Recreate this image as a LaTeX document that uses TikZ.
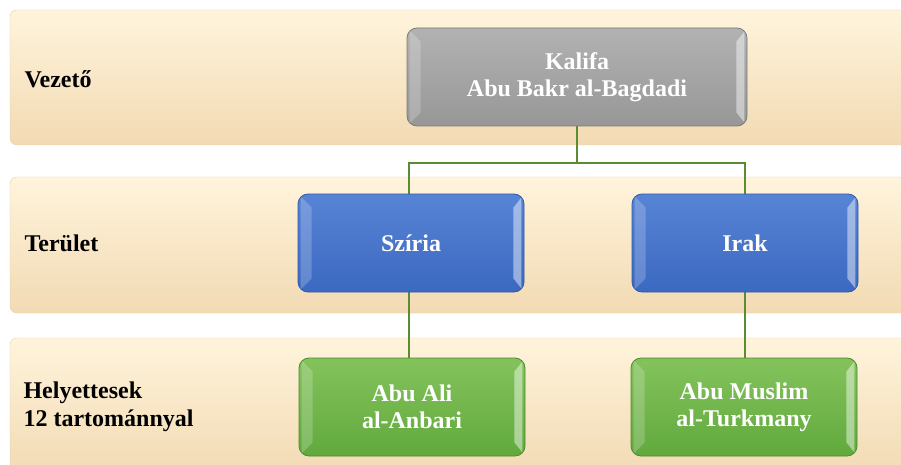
\documentclass[tikz,border=0pt]{standalone}
\usepackage{fontspec}
\setmainfont{Liberation Serif}[BoldFont={Liberation Serif Bold}]
\usetikzlibrary{calc}
\definecolor{bandtop}{HTML}{FFF4DC}
\definecolor{bandbot}{HTML}{F2DAB3}
\definecolor{bandline}{HTML}{E3CDA8}
\definecolor{graytop}{HTML}{B2B2B2}
\definecolor{graybot}{HTML}{979797}
\definecolor{grayline}{HTML}{7A7A7A}
\definecolor{bluetop}{HTML}{5884D5}
\definecolor{bluebot}{HTML}{3B69C1}
\definecolor{blueline}{HTML}{2E5AA8}
\definecolor{greentop}{HTML}{84C35C}
\definecolor{greenbot}{HTML}{61A93D}
\definecolor{greenline}{HTML}{4C8A2C}
\definecolor{connline}{HTML}{5A8C32}
\newcommand{\bevel}[1]{%
  \fill[white,opacity=.2] ($(#1.north west)+(3,3)$) -- ($(#1.north west)+(14,14)$)
    -- ($(#1.south west)+(14,-14)$) -- ($(#1.south west)+(3,-3)$) -- cycle;
  \fill[white,opacity=.45] ($(#1.north east)+(-3,4)$) -- ($(#1.north east)+(-11,14)$)
    -- ($(#1.south east)+(-11,-14)$) -- ($(#1.south east)+(-3,-4)$) -- cycle;
}

\begin{document}
\begin{tikzpicture}[x=1pt,y=-1pt,
    band/.style={rounded corners=7pt,top color=bandtop,bottom color=bandbot,draw=bandline},
    level/.style={anchor=west,align=left,font=\fontsize{24}{28}\selectfont\bfseries},
    box/.style={rounded corners=10pt,minimum width=226pt,minimum height=98pt,
      align=center,text=white,line width=0.8pt,
      font=\fontsize{24}{27}\selectfont\bfseries},
    graybox/.style={box,top color=graytop,bottom color=graybot,draw=grayline},
    bluebox/.style={box,top color=bluetop,bottom color=bluebot,draw=blueline},
    greenbox/.style={box,top color=greentop,bottom color=greenbot,draw=greenline},
    conn/.style={draw=connline,line width=1.6pt}]
    \useasboundingbox (0,0) rectangle (901,465);
    % bands
    \draw[band] (10,10) rectangle (915,145);
    \draw[band] (10,177) rectangle (915,313);
    \draw[band] (10,338) rectangle (915,475);
    \node[level] (lvezeto) at (21,79) {Vezető};
    \node[level] (lterulet) at (21,243) {Terület};
    \node[level] (lhelyettes) at (20,407) {Helyettesek\\12 tartománnyal};
    % connectors
    \coordinate (split) at (577,163);
    \draw[conn] (577,100) -- (split);
    \draw[conn] (split) -| (409,220);
    \draw[conn] (split) -| (745,220);
    \draw[conn] (409,260) -- (409,380);
    \draw[conn] (745,260) -- (745,380);
    % boxes
    \node[graybox,minimum width=340pt] (kalifa) at (577,77) {Kalifa\\Abu Bakr al-Bagdadi};
    \node[bluebox] (sziria) at (411,243) {Szíria};
    \node[bluebox] (irak) at (745,243) {Irak};
    \node[greenbox] (anbari) at (412,407) {Abu Ali\\al-Anbari};
    \node[greenbox] (turkmany) at (744,407) {Abu Muslim\\al-Turkmany};
    \bevel{kalifa}
    \bevel{sziria}
    \bevel{irak}
    \bevel{anbari}
    \bevel{turkmany}
\end{tikzpicture}
\end{document}
